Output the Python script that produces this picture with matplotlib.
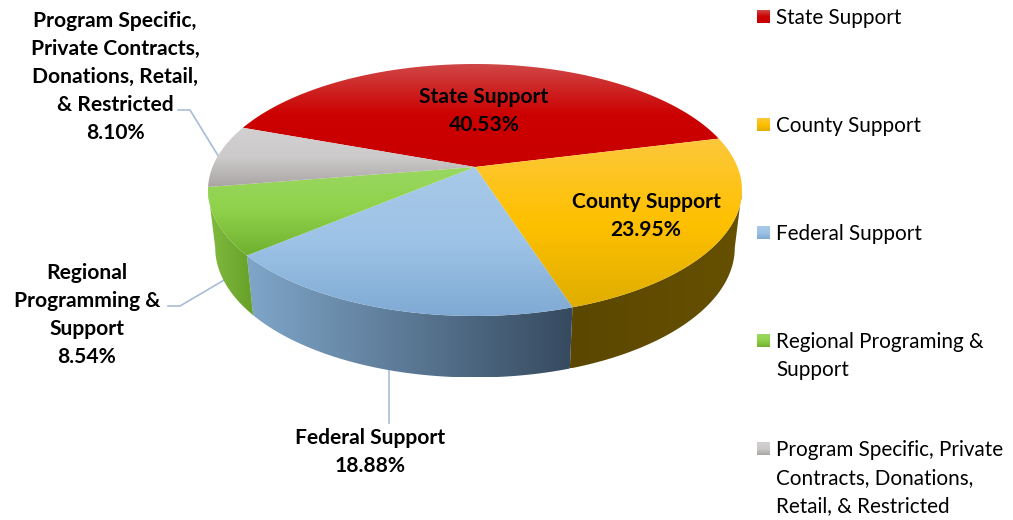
"""3D-look pie of funding sources, drawn on a pixel canvas with a perspective projection."""

import matplotlib
matplotlib.use("Agg")
import matplotlib.pyplot as plt
import numpy as np
from matplotlib.colors import LinearSegmentedColormap
from matplotlib.patches import Polygon

# data
shares = [40.53, 23.95, 18.88, 8.54, 8.10]
slice_labels = [
    "State Support",
    "County Support",
    "Federal Support",
    "Regional\nProgramming &\nSupport",
    "Program Specific,\nPrivate Contracts,\nDonations, Retail,\n& Restricted",
]
legend_labels = [
    "State Support",
    "County Support",
    "Federal Support",
    "Regional Programing &\nSupport",
    "Program Specific, Private\nContracts, Donations,\nRetail, & Restricted",
]
top_colors = [
    ["#d04848", "#cc0000", "#c80000"],
    ["#fcc83c", "#ffc000", "#dfae00"],
    ["#a8c9e8", "#9dc3e6", "#80aad4"],
    ["#9ad862", "#8fd14a", "#70b030"],
    ["#d2d0d0", "#cccaca", "#aaa5a5"],
]
wall_colors = [
    None,
    ["#5b4700", "#665000"],
    ["#7fa6c9", "#364a5f"],
    ["#82bb40", "#66a028"],
    None,
]

# layout config (pixels)
APEX_X, APEX_Y = 475, 167
RADIUS_X, RADIUS_Y = 262.5, 121.8
TILT = 0.1825
START_ANGLE = -70
WALL_SHIFT = 57
WALL_SCALE_X, WALL_SCALE_Y = 0.973, 1.03
LEADER_COLOR = "#a9bcd6"
FONT = "Lato"
BOLD_SIZE = 15.1
LEGEND_SIZE = 14.9
LINE_PX = 28

plt.rcParams["font.family"] = FONT

fig = plt.figure(figsize=(10.13, 5.20), dpi=100)
ax = fig.add_axes([0, 0, 1, 1])
ax.set_axis_off()


def project(theta_deg):
    """Angle clockwise from the far side of the pie -> pixel position on the top rim."""
    t = np.radians(theta_deg)
    sx, sy = np.sin(t), -np.cos(t)
    d = 1 - TILT * sy
    return APEX_X + RADIUS_X * sx / d, APEX_Y + RADIUS_Y * sy / d


def project_low(theta_deg):
    """Same thing for the rim at the bottom of the wall."""
    x, y = project(theta_deg)
    return (APEX_X + WALL_SCALE_X * (x - APEX_X),
            APEX_Y + WALL_SHIFT + WALL_SCALE_Y * (y - APEX_Y))


def gradient_fill(points, colors, horizontal=False, zorder=2):
    points = np.asarray(points)
    cmap = LinearSegmentedColormap.from_list("g", colors)
    ramp = np.linspace(0, 1, 256)
    ramp = ramp[np.newaxis, :] if horizontal else ramp[:, np.newaxis]
    x0, x1 = points[:, 0].min(), points[:, 0].max()
    y0, y1 = points[:, 1].min(), points[:, 1].max()
    im = ax.imshow(ramp, cmap=cmap, extent=(x0, x1, y1, y0), aspect="auto",
                   interpolation="bilinear", zorder=zorder)
    patch = Polygon(points, closed=True, transform=ax.transData, fc="none", ec="none")
    ax.add_patch(patch)
    im.set_clip_path(patch)


edges = START_ANGLE + np.cumsum([0] + shares) * 3.6
mids = (edges[:-1] + edges[1:]) / 2

# angles where the rim turns into the silhouette of the pie
wall_from = np.degrees(np.arccos(-TILT))
wall_to = 360 - wall_from

# walls first, top faces go over them
for i in range(len(shares)):
    if wall_colors[i] is None:
        continue
    a0 = max(edges[i], wall_from)
    a1 = min(edges[i + 1], wall_to)
    angles = np.linspace(a0, a1, 120)
    upper = np.column_stack(project(angles))
    lower = np.column_stack(project_low(angles))
    gradient_fill(np.vstack([upper, lower[::-1]]), wall_colors[i], horizontal=True, zorder=2)

for i in range(len(shares)):
    angles = np.linspace(edges[i], edges[i + 1], 200)
    rim = np.column_stack(project(angles))
    pts = np.vstack([[APEX_X, APEX_Y], rim])
    gradient_fill(pts, top_colors[i], zorder=3)

# leader lines, anchored at the middle of each slice
x, y = project(mids[4])
ax.plot([178, 190, x], [110, 110, y], color=LEADER_COLOR, lw=1.2, zorder=1)
x, y = project_low(mids[3])
ax.plot([168, 180, x], [306, 306, y], color=LEADER_COLOR, lw=1.2, zorder=1)
x, y = project_low(mids[2])
ax.plot([x, x], [y, 423], color=LEADER_COLOR, lw=1.2, zorder=1)

# slice labels: x centre, y of first line
label_pos = [(484, 97), (646, 202), (370, 438), (87, 273), (115, 21)]
for i, (lx, ly) in enumerate(label_pos):
    lines = slice_labels[i].split("\n") + [f"{shares[i]:.2f}%"]
    for j, line in enumerate(lines):
        ax.text(lx, ly + j * LINE_PX, line, ha="center", va="center",
                fontsize=BOLD_SIZE, fontweight="bold", color="black", zorder=5)

# legend
legend_y = [17, 125, 233, 341, 449]
for i, ly in enumerate(legend_y):
    box = [(757, ly - 7), (770, ly - 7), (770, ly + 6), (757, ly + 6)]
    gradient_fill(box, top_colors[i], zorder=3)
    for j, line in enumerate(legend_labels[i].split("\n")):
        ax.text(776, ly + 1 + j * LINE_PX, line, ha="left", va="center",
                fontsize=LEGEND_SIZE, color="black", zorder=5)

ax.set_xlim(0, 1013)
ax.set_ylim(520, 0)

fig.savefig("out.png", dpi=100)
plt.close(fig)
